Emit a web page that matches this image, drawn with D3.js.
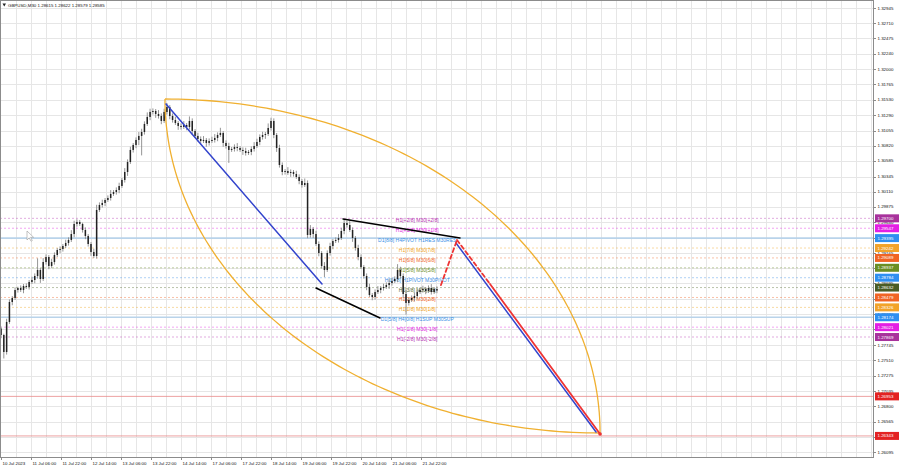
<!DOCTYPE html>
<html><head><meta charset="utf-8">
<script src="https://cdn.jsdelivr.net/npm/d3@7"></script>
<style>
html,body{margin:0;padding:0;background:#fff;overflow:hidden}
svg{display:block;font-family:"Liberation Sans",Arial,sans-serif}
</style>
</head><body>
<svg id="c" width="900" height="468"></svg>
<script>
// ---------------- DATA ----------------
const symbolTitle = "GBPUSD,M30";
const lastQuote = ["1.28615", "1.28622", "1.28579", "1.28585"];

// price path, one drawn bar every 3 M30 slots
const barStep = 3;
const firstOpen = 1.28000;
const closes = [
 1.27900,1.27638,1.28101,1.28409,1.28471,1.28594,1.28625,1.28594,1.28656,1.28641,
 1.28718,1.28749,1.28810,1.28903,1.28764,1.29026,1.29103,1.28965,1.29026,1.29134,
 1.29212,1.29227,1.29273,1.29320,1.29366,1.29458,1.29613,1.29644,1.29613,1.29520,
 1.29428,1.29304,1.29181,1.29119,1.29829,1.29906,1.29937,1.29983,1.30014,1.30076,
 1.30106,1.30137,1.30199,1.30292,1.30415,1.30569,1.30755,1.30832,1.30909,1.30971,
 1.31032,1.31156,1.31264,1.31341,1.31356,1.31310,1.31279,1.31202,1.31341,1.31418,
 1.31279,1.31217,1.31171,1.31125,1.31109,1.31140,1.31109,1.31202,1.31048,1.30971,
 1.30924,1.30893,1.30909,1.30863,1.30893,1.30909,1.30940,1.30986,1.31017,1.30863,
 1.30816,1.30755,1.30770,1.30801,1.30785,1.30755,1.30739,1.30708,1.30724,1.30770,
 1.30816,1.30878,1.30955,1.30986,1.31001,1.31094,1.31202,1.30986,1.30785,1.30523,
 1.30415,1.30430,1.30400,1.30415,1.30384,1.30338,1.30276,1.30214,1.30245,1.29443,
 1.29536,1.29458,1.29304,1.29165,1.28965,1.28903,1.29165,1.29273,1.29350,1.29366,
 1.29397,1.29505,1.29628,1.29597,1.29520,1.29397,1.29242,1.29103,1.28949,1.28810,
 1.28641,1.28517,1.28486,1.28563,1.28594,1.28625,1.28641,1.28671,1.28702,1.28733,
 1.28764,1.28903,1.28810,1.28533,1.28394,1.28440,1.28471,1.28502,1.28563,1.28594,
 1.28610,1.28579,1.28625,1.28563,1.28610,1.28585
];
// wick lengths in pips above / below the body
const wickUp = [
 3,2,5,4,3,4,2,4,3,4, 3,5,4,18,3,6,4,3,5,4, 3,4,3,5,4,6,5,4,3,2, 4,3,3,5,8,4,5,3,4,6,
 3,4,5,3,6,4,5,3,4,6, 5,4,7,5,4,3,6,4,5,6, 3,4,5,3,4,6,3,7,4,3, 5,4,6,3,4,5,6,4,8,3,
 4,5,3,4,6,3,4,5,3,4, 6,5,4,5,3,7,5,4,3,5, 4,3,6,4,3,5,4,3,7,4, 6,3,5,4,3,6,4,5,3,4,
 6,5,5,3,6,4,3,5,4,3, 4,5,3,4,6,3,5,4,6,5, 4,9,5,4,6,3,4,5,3,4, 5,3,4,6,3,4
];
const wickDn = [
 5,10,4,3,5,3,4,3,5,3, 4,3,5,4,6,3,4,5,3,4, 3,5,4,3,4,3,5,4,3,4, 5,4,6,3,4,3,4,5,3,4,
 3,4,5,3,4,6,3,4,5,8, 30,4,3,5,4,6,4,5,3,4, 5,4,3,6,4,3,5,4,6,3, 4,5,3,6,4,3,4,5,3,6,
 4,20,3,4,5,3,6,4,3,5, 4,3,5,4,6,3,4,5,6,4, 5,4,3,6,4,3,5,4,3,5, 4,6,3,5,4,11,3,4,5,3,
 4,3,5,4,3,6,4,5,3,4, 5,3,5,4,3,5,4,3,6,4, 3,5,4,6,18,4,3,5,4,3, 4,5,3,4,3,4
];

const timeStep = 32; // M30 slots between time labels
const timeLabels = ["10 Jul 2023","11 Jul 06:00","11 Jul 22:00","12 Jul 14:00","13 Jul 06:00",
  "13 Jul 22:00","14 Jul 14:00","17 Jul 06:00","17 Jul 22:00","18 Jul 14:00","19 Jul 06:00",
  "19 Jul 22:00","20 Jul 14:00","21 Jul 06:00","21 Jul 22:00"];

const priceTicks = [1.32945,1.32710,1.32475,1.32240,1.32000,1.31765,1.31530,1.31290,1.31055,
  1.30820,1.30585,1.30345,1.30110,1.29875,1.29640,1.29400,1.29165,1.28930,1.28695,1.28455,
  1.28220,1.27985,1.27745,1.27510,1.27275,1.27035,1.26800,1.26565,1.26330,1.26095];

// Murrey-math style levels
const levelValues = [1.29700,1.29547,1.29395,1.29242,1.29089,1.28937,1.28784,1.28632,1.28479,
  1.28326,1.28174,1.28021,1.27869];
const levelNames = ["H1[+2/8] M30[+2/8]","H1[+1/8] M30[+1/8]","D1[8/8] H4PIVOT H1RES M30RES",
  "H1[7/8] M30[7/8]","H1[6/8] M30[6/8]","H1[5/8] M30[5/8]","H1[4/8] H1PIVOT M30PIVOT",
  "H1[3/8] M30[3/8]","H1[2/8] M30[2/8]","H1[1/8] M30[1/8]","D1[5/8] H4[0/8] H1SUP M30SUP",
  "H1[-1/8] M30[-1/8]","H1[-2/8] M30[-2/8]"];
const levelKinds = ["p2","p1","d","o","r","g","pv","k","r","o","d","p1","p2"];
const levelTextSlot = 444;

const redLevels = [1.26953, 1.26343];

// drawn objects: [slotA, priceA, slotB, priceB]
const blueLines = [[176, 1.31464, 342.4, 1.28687], [485.3, 1.29320, 634.7, 1.26403]];
const blackLines = [[364.8, 1.29690, 489.6, 1.29397], [336, 1.28625, 404.3, 1.28162]];
const redDashed = [[469.3, 1.28671, 486.4, 1.29366], [486.4, 1.29366, 521.6, 1.28687]];
const redSolid = [[521.6, 1.28687, 639, 1.26372]];
const ellipseAnchors = [[174.9, 1.31541], [639, 1.26388]];

// ---------------- STYLE ----------------
const kindStyle = {
  p2: {c: "#b52fb0", bg: "#a8329c"},
  p1: {c: "#e01ee0", bg: "#e41fe4"},
  d:  {c: "#3a8fe6", bg: "#2f8ff0"},
  pv: {c: "#3a8fe6", bg: "#2f8ff0"},
  o:  {c: "#f0a21c", bg: "#f2a32a"},
  r:  {c: "#f06424", bg: "#f06424"},
  g:  {c: "#6b8e23", bg: "#6b8e23"},
  k:  {c: "#55692c", bg: "#4a5c24"}
};
const FS = 4.4;
const W = 900, H = 468, R = 873, B = 457;

// ---------------- DRAW ----------------
const svg = d3.select("#c");
const x = d3.scaleLinear().domain([0, 930]).range([1, 1 + 930 * 0.9375]);
const y = d3.scaleLinear().domain([1.26095, 1.32945]).range([452, 8]);

svg.append("rect").attr("width", W).attr("height", H).attr("fill", "#fff");
svg.append("clipPath").attr("id", "pc").append("rect")
  .attr("x", 0).attr("y", 0).attr("width", R).attr("height", B);
const g = svg.append("g").attr("clip-path", "url(#pc)");

// grid
const vSlots = d3.range(16, 930, 16).filter(m => x(m) < R);
g.selectAll("line.vg").data(vSlots).join("line").attr("class", "vg")
  .attr("x1", d => Math.round(x(d)) + 0.5).attr("x2", d => Math.round(x(d)) + 0.5)
  .attr("y1", 0).attr("y2", B).attr("stroke", "#e6e6e6").attr("stroke-width", 1);
g.selectAll("line.hg").data(priceTicks).join("line").attr("class", "hg")
  .attr("x1", 0).attr("x2", R)
  .attr("y1", d => Math.round(y(d)) + 0.5).attr("y2", d => Math.round(y(d)) + 0.5)
  .attr("stroke", "#e6e6e6").attr("stroke-width", 1);

// levels
const levels = levelValues.map((v, i) => ({v, name: levelNames[i], kind: levelKinds[i]}));
g.selectAll("line.lv").data(levels).join("line").attr("class", "lv")
  .attr("x1", 0).attr("x2", R)
  .attr("y1", d => y(d.v)).attr("y2", d => y(d.v))
  .attr("stroke", d => d.kind === "d" ? "#b9d3ea" : kindStyle[d.kind].c)
  .attr("stroke-opacity", d => d.kind === "d" ? 1 : 0.5)
  .attr("stroke-width", d => d.kind === "d" ? 1.6 : 0.8)
  .attr("stroke-dasharray", d => d.kind === "d" ? null : "2,2");
g.selectAll("line.rl").data(redLevels).join("line").attr("class", "rl")
  .attr("x1", 0).attr("x2", R)
  .attr("y1", d => y(d)).attr("y2", d => y(d))
  .attr("stroke", "#e88a8a").attr("stroke-width", 0.8);

g.selectAll("text.lt").data(levels).join("text").attr("class", "lt")
  .attr("x", x(levelTextSlot)).attr("y", d => y(d.v) + 2)
  .attr("text-anchor", "middle").attr("dominant-baseline", "central")
  .attr("font-size", 5).attr("fill", d => kindStyle[d.kind].c)
  .text(d => d.name);

// candles
const bars = closes.map((c, i) => {
  const o = i ? closes[i - 1] : firstOpen;
  return {m: i * barStep, o, c,
    h: Math.max(o, c) + wickUp[i] / 1e4, l: Math.min(o, c) - wickDn[i] / 1e4};
});
g.selectAll("line.wk").data(bars).join("line").attr("class", "wk")
  .attr("x1", d => x(d.m)).attr("x2", d => x(d.m))
  .attr("y1", d => y(d.h)).attr("y2", d => y(d.l))
  .attr("stroke", "#8a8a8a").attr("stroke-width", 0.9);
g.selectAll("rect.bd").data(bars).join("rect").attr("class", "bd")
  .attr("x", d => x(d.m) - 0.75).attr("width", 1.5)
  .attr("y", d => y(Math.max(d.o, d.c)))
  .attr("height", d => Math.max(0.9, Math.abs(y(d.o) - y(d.c))))
  .attr("fill", "#222");

// ellipse-like object (two quarter arcs between anchors)
const [a1, a2] = ellipseAnchors;
const p1 = [x(a1[0]), y(a1[1])], p2 = [x(a2[0]), y(a2[1])];
const aW = p2[0] - p1[0], bH = p2[1] - p1[1];
const th = d3.range(0, 1.0001, 0.01).map(t => t * Math.PI / 2);
const upperArc = th.map(t => [p1[0] + aW * Math.sin(t), p2[1] - bH * Math.cos(t)]);
const lowerArc = th.map(t => [p2[0] - aW * Math.cos(t), p1[1] + bH * Math.sin(t)]);
const lineGen = d3.line();
[upperArc, lowerArc].forEach(pts => g.append("path").attr("d", lineGen(pts))
  .attr("fill", "none").attr("stroke", "#f0b030").attr("stroke-width", 1.3));

// trend lines
function seg(data, cls, color, w, dash) {
  g.selectAll("line." + cls).data(data).join("line").attr("class", cls)
    .attr("x1", d => x(d[0])).attr("y1", d => y(d[1]))
    .attr("x2", d => x(d[2])).attr("y2", d => y(d[3]))
    .attr("stroke", color).attr("stroke-width", w)
    .attr("stroke-dasharray", dash || null).attr("stroke-linecap", "round");
}
seg(blackLines, "bl", "#000", 1.5);
seg(blueLines, "bu", "#3344cc", 1.5);
seg(redDashed, "rd", "#ee3333", 1.8, "4,3");
seg(redSolid, "rs", "#ee3333", 1.8);
g.append("circle").attr("cx", x(redSolid[0][2])).attr("cy", y(redSolid[0][3]))
  .attr("r", 1.8).attr("fill", "#ee3333");

// mouse cursor glyph
g.append("path").attr("d", "M27,231 L27,240 L29.2,237.8 L31,241.2 L32.3,240.6 L30.6,237.3 L33.6,237.3 Z")
  .attr("fill", "#fff").attr("stroke", "#9a9a9a").attr("stroke-width", 0.6);

// frame
svg.append("rect").attr("x", 0.5).attr("y", 0.5).attr("width", R).attr("height", B)
  .attr("fill", "none").attr("stroke", "#8c8c8c").attr("stroke-width", 1);

// header
svg.append("path").attr("d", "M2.5,3.5 L6,3.5 L4.25,6.5 Z").attr("fill", "#222");
svg.append("text").attr("x", 8).attr("y", 5.3).attr("dominant-baseline", "central")
  .attr("font-size", FS).attr("fill", "#111")
  .text(symbolTitle + "  " + lastQuote.join(" "));

// price axis
svg.selectAll("text.pt").data(priceTicks).join("text").attr("class", "pt")
  .attr("x", 877.5).attr("y", d => y(d)).attr("dominant-baseline", "central")
  .attr("font-size", FS).attr("fill", "#111").text(d => d.toFixed(5));
svg.selectAll("line.ptk").data(priceTicks).join("line").attr("class", "ptk")
  .attr("x1", R + 0.5).attr("x2", R + 3).attr("y1", d => Math.round(y(d)) + 0.5)
  .attr("y2", d => Math.round(y(d)) + 0.5).attr("stroke", "#8c8c8c");

// time axis
svg.selectAll("text.tt").data(timeLabels).join("text").attr("class", "tt")
  .attr("x", (d, i) => x(i * timeStep) + 1.5).attr("y", 463)
  .attr("dominant-baseline", "central").attr("font-size", FS).attr("fill", "#111")
  .text(d => d);
svg.selectAll("line.ttk").data(timeLabels).join("line").attr("class", "ttk")
  .attr("x1", (d, i) => Math.round(x(i * timeStep)) + 0.5)
  .attr("x2", (d, i) => Math.round(x(i * timeStep)) + 0.5)
  .attr("y1", B + 0.5).attr("y2", B + 3).attr("stroke", "#8c8c8c");

// colored price boxes (drawn over the plain tick labels, as in the terminal)
const boxes = levels.map(d => ({v: d.v, bg: kindStyle[d.kind].bg}))
  .concat(redLevels.map(v => ({v, bg: "#e32222"})));
const bx = svg.selectAll("g.bx").data(boxes).join("g").attr("class", "bx");
bx.append("rect").attr("x", 875).attr("width", 24).attr("y", d => y(d.v) - 4).attr("height", 8)
  .attr("fill", d => d.bg);
bx.append("text").attr("x", 877.5).attr("y", d => y(d.v)).attr("dominant-baseline", "central")
  .attr("font-size", FS).attr("fill", "#fff").text(d => d.v.toFixed(5));
</script>
</body></html>
